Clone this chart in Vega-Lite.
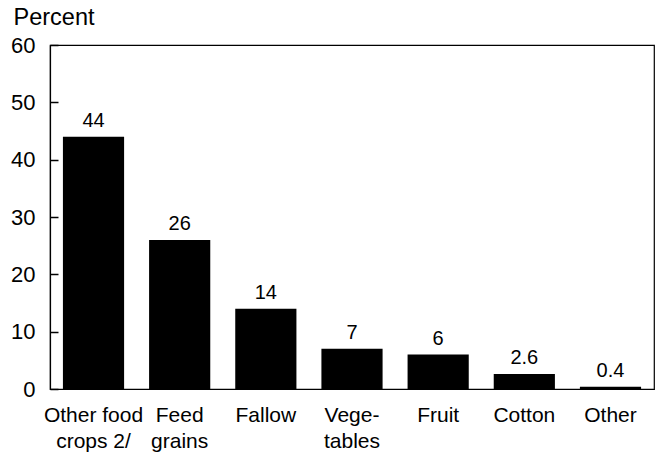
{
  "$schema": "https://vega.github.io/schema/vega-lite/v6.json",
  "autosize": {"type": "none"},
  "width": 604,
  "height": 344,
  "padding": {"left": 50, "top": 45, "right": 2, "bottom": 64},
  "background": "white",
  "config": {
    "font": "Liberation Sans",
    "view": {"stroke": "black", "strokeWidth": 1.2},
    "axis": {"domainColor": "black", "labelColor": "black", "labelFont": "Liberation Sans"}
  },
  "data": {
    "values": [
      {"crop": "Other food|crops 2/", "value": 44, "label": "44"},
      {"crop": "Feed|grains", "value": 26, "label": "26"},
      {"crop": "Fallow", "value": 14, "label": "14"},
      {"crop": "Vege-|tables", "value": 7, "label": "7"},
      {"crop": "Fruit", "value": 6, "label": "6"},
      {"crop": "Cotton", "value": 2.6, "label": "2.6"},
      {"crop": "Other", "value": 0.4, "label": "0.4"}
    ]
  },
  "encoding": {
    "x": {
      "field": "crop", "type": "nominal", "sort": null,
      "scale": {"paddingInner": 0.29, "paddingOuter": 0.15},
      "axis": {"title": null, "grid": false, "labelAngle": 0, "ticks": false, "labelFontSize": 21, "labelPadding": 15, "labelLineHeight": 26, "labelExpr": "split(datum.label, '|')", "domainWidth": 1.2}
    },
    "y": {
      "field": "value", "type": "quantitative",
      "scale": {"domain": [0, 60]},
      "axis": {"title": "Percent", "titleAngle": 0, "titleAnchor": "end", "titleAlign": "left", "titleBaseline": "alphabetic", "titleX": -37, "titleY": -21, "titleFont": "Liberation Sans", "titleFontSize": 23.5, "titleFontWeight": "normal", "titleColor": "black", "values": [0, 10, 20, 30, 40, 50, 60], "grid": false, "ticks": true, "tickSize": -8, "tickWidth": 1.5, "tickColor": "black", "domain": true, "domainWidth": 1.2, "labelFontSize": 22, "labelPadding": 23, "zindex": 2}
    }
  },
  "layer": [
    {"mark": {"type": "bar", "color": "black"}},
    {"mark": {"type": "text", "baseline": "alphabetic", "dy": -10, "fontSize": 20, "color": "black", "font": "Liberation Sans"}, "encoding": {"text": {"field": "label"}}}
  ]
}
